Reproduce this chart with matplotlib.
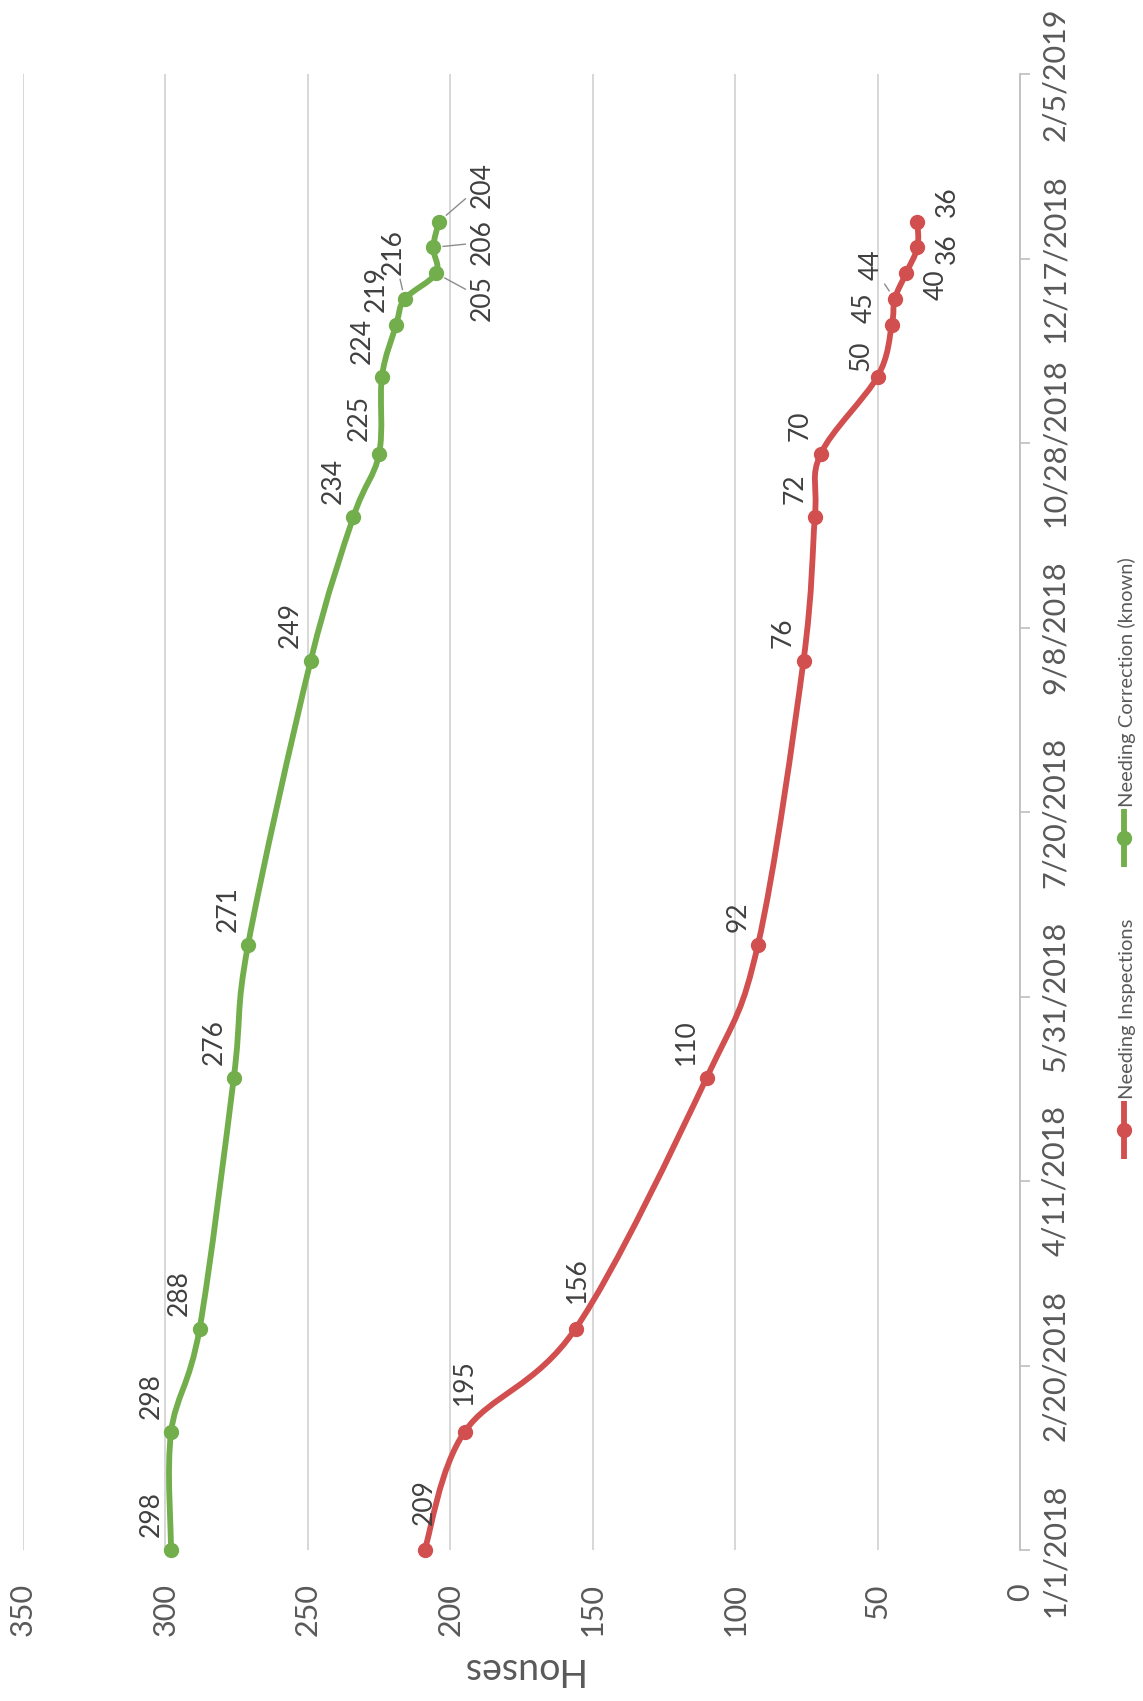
# Gráfico de casas pendientes (página escaneada girada 90 grados)
import datetime as dt
import numpy as np
import matplotlib
matplotlib.use('Agg')
import matplotlib.pyplot as plt
import matplotlib.dates as mdates
from matplotlib.path import Path
from matplotlib.patches import PathPatch
from matplotlib.lines import Line2D

plt.rcParams['font.family'] = ['Lato', 'DejaVu Sans']

# Datos
fechas = ['2018-01-01', '2018-02-02', '2018-03-02', '2018-05-09', '2018-06-14',
          '2018-08-30', '2018-10-08', '2018-10-25', '2018-11-15', '2018-11-29',
          '2018-12-06', '2018-12-13', '2018-12-20', '2018-12-27']
needing_correction = [298, 298, 288, 276, 271, 249, 234, 225, 224, 219, 216, 205, 206, 204]
needing_inspections = [209, 195, 156, 110, 92, 76, 72, 70, 50, 45, 44, 40, 36, 36]
nombres_series = ['Needing Inspections', 'Needing Correction (known)']
etiquetas_fechas = ['1/1/2018', '2/20/2018', '4/11/2018', '5/31/2018', '7/20/2018',
                    '9/8/2018', '10/28/2018', '12/17/2018', '2/5/2019']
ticks_casas = [0, 50, 100, 150, 200, 250, 300, 350]

VERDE = '#72AE4C'
ROJO = '#D24F4F'
GRIS_TEXTO = '#595959'

fig_w, fig_h = 1143, 1701


def px(x, y):
    # pixeles (desde arriba a la izquierda) a fracción de figura
    return x / fig_w, 1 - y / fig_h


def parse_fecha(s):
    if '-' in s:
        return dt.datetime.strptime(s, '%Y-%m-%d')
    return dt.datetime.strptime(s, '%m/%d/%Y')


# Línea suavizada tipo Excel (Bezier por Catmull-Rom)
def camino_suave(xs, ys):
    pts = np.column_stack([xs, ys])
    n = len(pts)
    verts = [pts[0]]
    codes = [Path.MOVETO]
    for i in range(n - 1):
        p0 = pts[i - 1] if i > 0 else pts[i]
        p1 = pts[i]
        p2 = pts[i + 1]
        p3 = pts[i + 2] if i + 2 < n else pts[i + 1]
        verts += [p1 + (p2 - p0) / 6, p2 - (p3 - p1) / 6, p2]
        codes += [Path.CURVE4] * 3
    return Path(verts, codes)


# Ajustes de las etiquetas: indice -> (dx, dy, va, linea guía)
ajustes_verde = {
    10: (-11, 24, 'bottom', True),
    11: (46, -25, 'center', True),
    12: (49, 5, 'center', True),
    13: (43, 37, 'center', True),
}
ajustes_rojo = {
    0: (0, 25, 'bottom', False),
    1: (0, 27, 'bottom', False),
    2: (2, 26, 'bottom', False),
    8: (-17, 6, 'bottom', False),
    9: (-28, 2, 'bottom', False),
    10: (-23, 19, 'bottom', True),
    11: (30, -11, 'center', False),
    12: (30, -1, 'center', False),
    13: (30, 20, 'center', False),
}


def etiquetar(ax, xs, ys, ajustes):
    for i, (x, y) in enumerate(zip(xs, ys)):
        dx, dy, va, linea = ajustes.get(i, (-20, 13, 'bottom', False))
        extra = {}
        if linea:
            extra['arrowprops'] = dict(arrowstyle='-', color='#8C8C8C', lw=1.0,
                                       shrinkA=1, shrinkB=7)
        ax.annotate(str(x), (x, y), xytext=(dx, dy), textcoords='offset pixels',
                    rotation=90, ha='center', va=va, fontsize=19,
                    color='#404040', **extra)


y_fechas = mdates.date2num([parse_fecha(f) for f in fechas])
y_ticks = mdates.date2num([parse_fecha(f) for f in etiquetas_fechas])

fig = plt.figure(figsize=(fig_w / 100, fig_h / 100), dpi=100)
izq, abajo = px(23, 1550)
der, arriba = px(1020, 74)
ax = fig.add_axes([izq, abajo, der - izq, arriba - abajo])

ax.set_xlim(350, 0)
ax.set_ylim(y_ticks[0], y_ticks[-1])

# Series
for valores, color, ajustes in [(needing_correction, VERDE, ajustes_verde),
                                (needing_inspections, ROJO, ajustes_rojo)]:
    camino = camino_suave(np.array(valores, dtype=float), y_fechas)
    ax.add_patch(PathPatch(camino, fill=False, edgecolor=color, lw=4.2,
                           capstyle='round', joinstyle='round', clip_on=False, zorder=3))
    ax.plot(valores, y_fechas, 'o', color=color, markersize=10, clip_on=False, zorder=4)
    etiquetar(ax, valores, y_fechas, ajustes)

# Ejes
ax.yaxis.tick_right()
ax.set_yticks(y_ticks)
ax.set_yticklabels(etiquetas_fechas, rotation=90, fontsize=22, color=GRIS_TEXTO)
for lab in ax.get_yticklabels():
    lab.set_va('center')
ax.tick_params(axis='y', direction='out', length=7, width=1.2, color='#BFBFBF', pad=8)

ax.set_xticks(ticks_casas)
ax.set_xticklabels([str(t) for t in ticks_casas], rotation=90, fontsize=22, color=GRIS_TEXTO)
ax.tick_params(axis='x', length=0, pad=24)

ax.grid(axis='x', color='#D4D4D4', lw=1.3)
ax.set_axisbelow(True)
for s in ['left', 'top', 'bottom']:
    ax.spines[s].set_visible(False)
ax.spines['right'].set_color('#BFBFBF')
ax.spines['right'].set_linewidth(1.3)

fig.text(*px(520, 1669), 'Houses', rotation=180, ha='center', va='center',
         fontsize=27, color=GRIS_TEXTO)

# Leyenda (girada)
for nombre, color, y_centro in [(nombres_series[0], ROJO, 1130), (nombres_series[1], VERDE, 838)]:
    x0, y0 = px(1124, y_centro + 29)
    x1, y1 = px(1124, y_centro - 29)
    fig.add_artist(Line2D([x0, x1], [y0, y1], transform=fig.transFigure,
                          color=color, lw=4.2, solid_capstyle='butt'))
    xm, ym = px(1124, y_centro)
    fig.add_artist(Line2D([xm], [ym], transform=fig.transFigure, marker='o',
                          markersize=10, color=color))
    fig.text(*px(1127, y_centro - 31), nombre, rotation=90, ha='center', va='bottom',
             fontsize=14.5, color=GRIS_TEXTO)

plt.savefig('out.png', dpi=100)
